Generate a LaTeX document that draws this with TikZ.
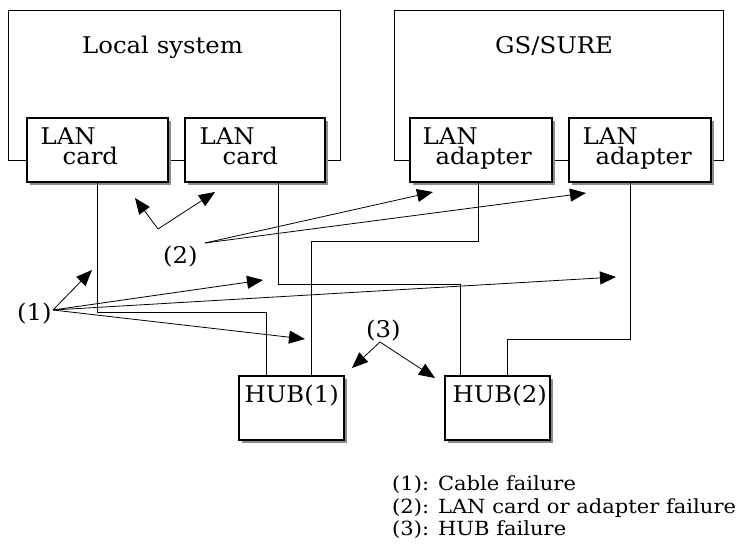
\documentclass[tikz,border=0pt]{standalone}
\usepackage{fontspec}
\setmainfont{DejaVu Serif}
\newfontfamily\lblfont{DejaVu Serif}[FakeStretch=1.06]
\newfontfamily\legfont{DejaVu Serif}[FakeStretch=1.08]
\usetikzlibrary{arrows.meta,shadows,calc}
\begin{document}
\begin{tikzpicture}[x=1pt,y=-1pt,
  sysbox/.style={draw, line width=0.9pt, inner sep=0pt, minimum height=150pt},
  cardbox/.style={draw, fill=white, line width=1.2pt, inner sep=0pt,
    minimum height=64pt, minimum width=141pt,
    general shadow={fill=black!45, shadow xshift=2.5pt, shadow yshift=-2.5pt}},
  hubbox/.style={cardbox, minimum height=64pt, minimum width=105pt},
  cable/.style={line width=0.9pt},
  fail/.style={line width=0.8pt, -{Triangle[length=16pt,width=13pt]}},
  lbl/.style={anchor=base west, inner sep=0pt, font=\lblfont\fontsize{23}{27}\selectfont},
  legend/.style={anchor=base west, inner sep=0pt, font=\legfont\fontsize{19.5}{23}\selectfont}]
\fill[white] (0,0) rectangle (740,554);
\useasboundingbox (0,0) rectangle (740,554);

% systems
\node[sysbox, minimum width=332pt] (local) at (174,85) {};
\node[sysbox, minimum width=329pt] (gs) at (558.5,85) {};
\node[lbl] (localtxt) at (82,53) {Local system};
\node[lbl] (gstxt) at (495,53) {GS/SURE};

% cards and adapters
\node[cardbox] (card1) at (97.5,150) {};
\node[cardbox, minimum width=140pt] (card2) at (255,150) {};
\node[cardbox, minimum width=142pt] (adp1) at (481,150) {};
\node[cardbox, minimum width=142pt] (adp2) at (640,150) {};

\node[lbl] (c1a) at ($(card1.north west)+(14,27)$) {LAN};
\node[lbl] (c1b) at ($(card1.north west)+(36,47)$) {card};
\node[lbl] (c2a) at ($(card2.north west)+(15,27)$) {LAN};
\node[lbl] (c2b) at ($(card2.north west)+(38,47)$) {card};
\node[lbl] (a1a) at ($(adp1.north west)+(13,27)$) {LAN};
\node[lbl] (a1b) at ($(adp1.north west)+(26,47)$) {adapter};
\node[lbl] (a2a) at ($(adp2.north west)+(14,27)$) {LAN};
\node[lbl] (a2b) at ($(adp2.north west)+(27,47)$) {adapter};

% hubs
\node[hubbox] (hub1) at (291.5,408) {};
\node[hubbox] (hub2) at (497.5,408) {};
\node[lbl] (h1) at ($(hub1.north west)+(6,27)$) {HUB(1)};
\node[lbl] (h2) at ($(hub2.north west)+(8,27)$) {HUB(2)};

% cables
\coordinate (k1) at (97,312);
\coordinate (k2) at (278,284);
\coordinate (k3) at (478,241);
\coordinate (k4) at (630,339);
\coordinate (h1a) at ($(hub1.north west)+(28,0)$);
\coordinate (h1b) at ($(hub1.north west)+(73,0)$);
\coordinate (h2a) at ($(hub2.north west)+(16,0)$);
\coordinate (h2b) at ($(hub2.north west)+(63,0)$);
\draw[cable] (card1.south) -- (card1.south |- k1) -| (h1a);
\draw[cable] (card2.south -| k2) -- (k2) -| (h2a);
\draw[cable] (adp1.south -| k3) -- (k3) -| (h1b);
\draw[cable] (adp2.south -| k4) -- (k4) -| (h2b);

% failure markers
\node[lbl] (l1) at (17,320) {(1)};
\node[lbl] (l2) at (163,263) {(2)};
\node[lbl] (l3) at (366,337) {(3)};

\coordinate (o1) at (53,310);
\coordinate (t1a) at (92,270);
\coordinate (t1b) at (263,280);
\coordinate (t1c) at (305,339);
\coordinate (t1d) at (616,277);
\draw[fail] (o1) -- (t1a);
\draw[fail] (o1) -- (t1b);
\draw[fail] (o1) -- (t1c);
\draw[fail] (o1) -- (t1d);

\coordinate (o2) at (205,243);
\coordinate (t2a) at (433,192);
\coordinate (t2b) at (586,193);
\draw[fail] (o2) -- (t2a);
\draw[fail] (o2) -- (t2b);

\coordinate (o2c) at (158,229);
\coordinate (t2c) at (135,198);
\coordinate (t2d) at (215,192);
\draw[fail] (o2c) -- (t2c);
\draw[fail] (o2c) -- (t2d);

\coordinate (o3) at (380,342);
\coordinate (t3a) at (352,368);
\coordinate (t3b) at (435,378);
\draw[fail] (o3) -- (t3a);
\draw[fail] (o3) -- (t3b);

% legend
\node[legend] (g1) at (392,490) {(1): Cable failure};
\node[legend] (g2) at (392,513) {(2): LAN card or adapter failure};
\node[legend] (g3) at (392,535) {(3): HUB failure};
\end{tikzpicture}
\end{document}
